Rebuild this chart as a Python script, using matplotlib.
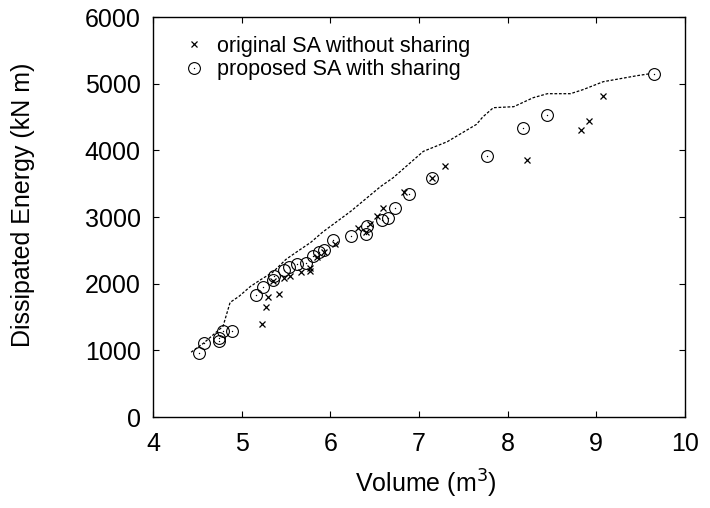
import matplotlib
matplotlib.use("Agg")
import matplotlib.pyplot as plt

plt.rcParams['font.family'] = ['Liberation Sans', 'DejaVu Sans']

# Pareto front (dashed line)
front_x = [4.43, 4.57, 4.79, 4.87, 4.97, 5.10, 5.22, 5.35, 5.50, 5.63, 5.78, 5.91,
           6.23, 6.57, 6.71, 7.05, 7.32, 7.65, 7.72, 7.84, 8.07, 8.29, 8.45, 8.71,
           8.85, 9.08, 9.27, 9.46, 9.61]
front_y = [973, 1108, 1362, 1720, 1810, 1960, 2065, 2170, 2365, 2485, 2620, 2770,
           3085, 3460, 3590, 3985, 4130, 4390, 4500, 4640, 4655, 4790, 4850, 4850,
           4910, 5030, 5075, 5120, 5150]

# original SA without sharing (crosses)
orig_x = [5.23, 5.28, 5.30, 5.42, 5.35, 5.48, 5.55, 5.67, 5.77, 5.77, 5.85, 5.93,
          6.05, 6.31, 6.40, 6.45, 6.53, 6.60, 6.83, 7.15, 7.29, 8.22, 8.83, 8.92, 9.08]
orig_y = [1390, 1650, 1800, 1850, 2040, 2080, 2110, 2170, 2190, 2230, 2400, 2480,
          2600, 2840, 2780, 2890, 3020, 3140, 3380, 3580, 3770, 3860, 4310, 4445, 4820]

# proposed SA with sharing (circles)
prop_x = [4.52, 4.57, 4.74, 4.75, 4.79, 4.89, 5.16, 5.24, 5.35, 5.36, 5.48, 5.54,
          5.62, 5.73, 5.81, 5.87, 5.93, 6.03, 6.23, 6.40, 6.42, 6.58, 6.65, 6.73,
          6.89, 7.15, 7.77, 8.18, 8.45, 9.65]
prop_y = [958, 1108, 1138, 1183, 1287, 1287, 1826, 1950, 2051, 2110, 2200, 2245,
          2290, 2305, 2410, 2470, 2500, 2650, 2710, 2740, 2860, 2950, 2990, 3140,
          3340, 3590, 3910, 4340, 4535, 5150]

fig = plt.figure(figsize=(7.1, 5.08), dpi=100)
ax = fig.add_axes([0.2155, 0.179, 0.749, 0.7875])

ax.plot(front_x, front_y, linestyle=(0, (2.2, 1.4)), color='black', linewidth=0.9)
h1, = ax.plot(orig_x, orig_y, linestyle='none', marker='x', color='black',
              markersize=4.2, markeredgewidth=0.9)
h2, = ax.plot(prop_x, prop_y, linestyle='none', marker='o', markerfacecolor='none',
              markeredgecolor='black', markersize=8.5, markeredgewidth=0.8)
h3, = ax.plot(prop_x, prop_y, linestyle='none', marker='o', color='black',
              markersize=1.0, markeredgewidth=0)

ax.set_xlim(4, 10)
ax.set_ylim(0, 6000)
ax.set_xticks([4, 5, 6, 7, 8, 9, 10])
ax.set_yticks([0, 1000, 2000, 3000, 4000, 5000, 6000])
ax.tick_params(direction='in', top=True, right=True, labelsize=18, length=4,
               width=0.8)
ax.tick_params(axis='x', pad=11)
ax.tick_params(axis='y', pad=9)
for s in ax.spines.values():
    s.set_linewidth(1.0)

ax.set_xlabel('Volume (m$^3$)', fontsize=18, labelpad=8)
ax.set_ylabel('Dissipated Energy (kN m)', fontsize=18)
ax.yaxis.set_label_coords(-0.222, 0.53)
ax.xaxis.label.set_x(0.513)

ax.legend([h1, (h2, h3)], ['original SA without sharing', 'proposed SA with sharing'],
          loc='upper left', bbox_to_anchor=(0.032, 0.985), frameon=False,
          fontsize=15.5, handlelength=1.0, handletextpad=0.6, labelspacing=0.1,
          borderaxespad=0.2)

fig.savefig('out.png', dpi=100)
